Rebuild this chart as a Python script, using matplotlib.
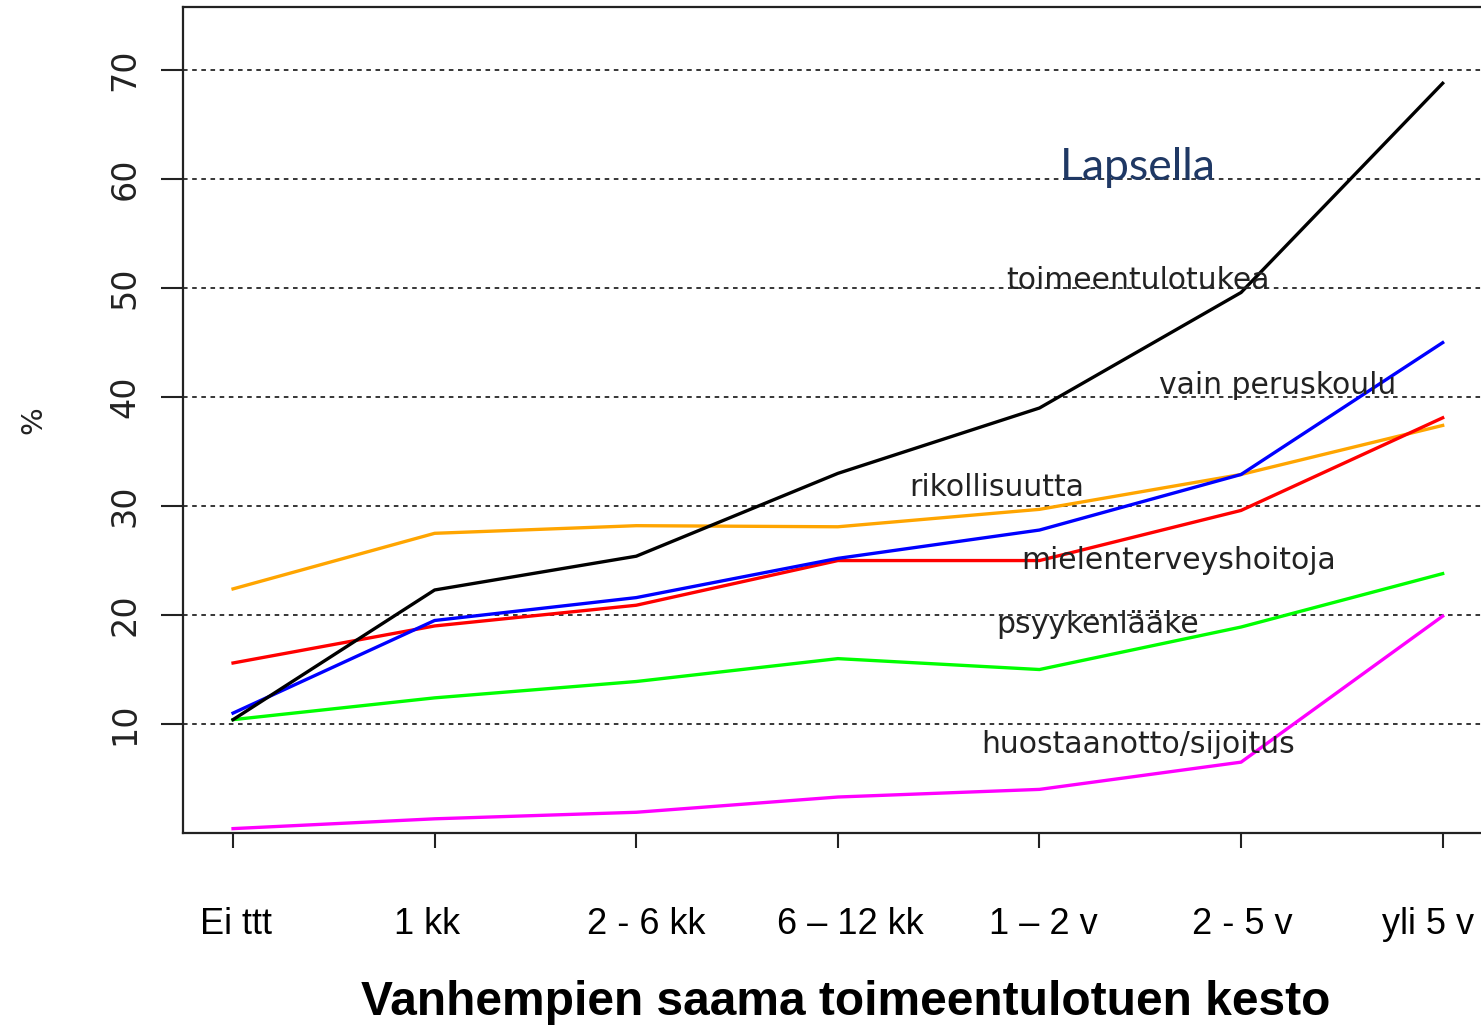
import matplotlib.pyplot as plt
from matplotlib.transforms import ScaledTranslation

categories = ["Ei ttt", "1 kk", "2 - 6 kk", "6 \u2013 12 kk", "1 \u2013 2 v", "2 - 5 v", "yli 5 v"]

toimeentulotukea = [10.4, 22.3, 25.4, 33.0, 39.0, 49.6, 68.8]
vain_peruskoulu = [11.0, 19.5, 21.6, 25.2, 27.8, 32.9, 45.0]
mielenterveyshoitoja = [15.6, 19.0, 20.9, 25.0, 25.0, 29.6, 38.1]
rikollisuutta = [22.4, 27.5, 28.2, 28.1, 29.7, 32.9, 37.4]
psyykenlaake = [10.4, 12.4, 13.9, 16.0, 15.0, 18.9, 23.8]
huostaanotto = [0.4, 1.3, 1.9, 3.3, 4.0, 6.5, 19.9]

y_ticks = [10, 20, 30, 40, 50, 60, 70]

fig = plt.figure(figsize=(14.81, 10.29), dpi=100)
ax = fig.add_axes([0.1236, 0.1905, 0.89, 0.8027])

x = range(len(categories))

for yt in y_ticks:
    ax.axhline(yt, color='black', linewidth=1.1, linestyle=(0, (3, 3)), zorder=1)

ax.plot(x, huostaanotto, color='#ff00ff', linewidth=2.4, zorder=3)
ax.plot(x, psyykenlaake, color='#00ff00', linewidth=2.4, zorder=3)
ax.plot(x, rikollisuutta, color='#ffa500', linewidth=2.4, zorder=3)
ax.plot(x, mielenterveyshoitoja, color='#ff0000', linewidth=2.4, zorder=3)
ax.plot(x, vain_peruskoulu, color='#0000ff', linewidth=2.4, zorder=3)
ax.plot(x, toimeentulotukea, color='black', linewidth=2.4, zorder=3)

ax.set_xlim(-0.248, 6.29)
ax.set_ylim(0, 75.8)

ax.set_yticks(y_ticks)
ax.set_yticklabels([str(v) for v in y_ticks], rotation=90, va='center',
                   fontsize=24, color='#222222', family='DejaVu Sans')
ax.tick_params(axis='y', length=16, width=1.5, pad=14, colors='#222222')

ax.set_xticks(list(x))
ax.set_xticklabels(categories, fontsize=26, family='Liberation Sans')
ax.tick_params(axis='x', length=11, width=1.5, pad=42, colors='#222222', labelcolor='black')

# labels in the original sit slightly off their ticks (pixels)
shifts = [3, -8, 10, 13, 4, 1, -15]
for tick, dx in zip(ax.xaxis.get_major_ticks(), shifts):
    lab = tick.label1
    lab.set_transform(lab.get_transform() + ScaledTranslation(dx / 100, 0, fig.dpi_scale_trans))

for side in ['left', 'bottom', 'top', 'right']:
    ax.spines[side].set_linewidth(1.6)
    ax.spines[side].set_color('#222222')

ax.set_ylabel('%', fontsize=21, family='DejaVu Sans', labelpad=44, color='#222222')

ax.text(4.49, 61.1, 'Lapsella', fontsize=32, color='#1f3864', family='Lato',
        ha='center', va='center')

labels = [
    ('toimeentulotukea', 4.49, 50.7),
    ('vain peruskoulu', 5.18, 41.1),
    ('rikollisuutta', 3.79, 31.7),
    ('mielenterveyshoitoja', 4.69, 25.0),
    ('psyykenlääke', 4.29, 19.1),
    ('huostaanotto/sijoitus', 4.49, 8.1),
]
for txt, lx, ly in labels:
    ax.text(lx, ly, txt, fontsize=21.5, color='#222222', family='DejaVu Sans',
            ha='center', va='center', zorder=4)

fig.text(0.571, 0.026, 'Vanhempien saama toimeentulotuen kesto', fontsize=34.5,
         fontweight='bold', family='Liberation Sans', ha='center', va='center')

fig.savefig('out.png', dpi=100)
